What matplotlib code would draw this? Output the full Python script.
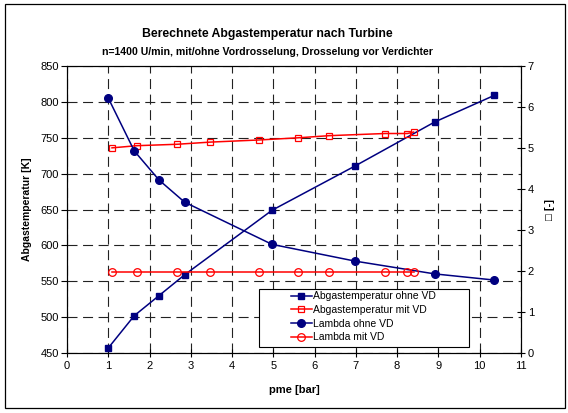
import numpy as np
import matplotlib
matplotlib.use("Agg")
import matplotlib.pyplot as plt
from matplotlib.patches import Rectangle

plt.rcParams['font.family'] = ['Liberation Sans', 'DejaVu Sans']

# Abgastemperatur ohne VD (linke Achse)
pme_ohne = [1.0, 1.63, 2.23, 2.85, 4.97, 6.99, 8.91, 10.35]
temp_ohne = [457, 502, 530, 559, 649, 711, 772, 809]
lambda_ohne = [6.22, 4.93, 4.22, 3.68, 2.65, 2.24, 1.93, 1.78]

# mit Vordrosselung
pme_mit = [1.09, 1.69, 2.67, 3.47, 4.66, 5.60, 6.36, 7.71, 8.25, 8.40]
temp_mit = [736, 739, 741, 744, 747, 750, 753, 756, 756, 758]
lambda_mit = [1.98, 1.98, 1.98, 1.98, 1.98, 1.98, 1.98, 1.98, 1.98, 1.98]

navy = '#000080'
red = '#ff0000'

fig = plt.figure(figsize=(5.68, 4.13), dpi=100, facecolor='white')
fig.patches.append(Rectangle((0.0088, 0.0121), 0.986, 0.978, transform=fig.transFigure,
                             fill=False, edgecolor='black', linewidth=0.9))

ax = fig.add_axes([0.118, 0.1453, 0.799, 0.6947])
ax2 = ax.twinx()

l1, = ax.plot(pme_ohne, temp_ohne, color=navy, lw=1.1, marker='s', ms=5,
              label='Abgastemperatur ohne VD')
l2, = ax.plot(pme_mit, temp_mit, color=red, lw=1.1, marker='s', ms=5,
              mfc='none', mew=0.9, label='Abgastemperatur mit VD')
l3, = ax2.plot(pme_ohne, lambda_ohne, color=navy, lw=1.1, marker='o', ms=5.5,
               label='Lambda ohne VD')
l4, = ax2.plot(pme_mit, lambda_mit, color=red, lw=1.1, marker='o', ms=5.5,
               mfc='none', mew=0.9, label='Lambda mit VD')

ax.set_xlim(0, 11)
ax.set_ylim(450, 850)
ax2.set_ylim(0, 7)
ax.set_xticks(np.arange(0, 12, 1))
ax.set_yticks(np.arange(450, 851, 50))
ax2.set_yticks(np.arange(0, 8, 1))

ax.grid(True, color='#222222', linestyle=(0, (9, 5)), linewidth=0.8)
ax.set_axisbelow(True)

ax.tick_params(axis='y', direction='out', length=4, width=0.8, labelsize=8, pad=2)
ax.tick_params(axis='x', direction='inout', length=6, width=0.8, labelsize=8, pad=3)
ax2.tick_params(axis='y', direction='inout', length=6, width=0.8, labelsize=8, pad=2)
for a in (ax, ax2):
    for s in a.spines.values():
        s.set_linewidth(0.8)

ax.set_xlabel('pme [bar]', fontsize=8, fontweight='bold', labelpad=10)
ax.set_ylabel('Abgastemperatur [K]', fontsize=7.5, fontweight='bold', labelpad=6)
ax2.set_ylabel('\u25a1 [-]', fontsize=8, fontweight='bold', rotation=90, labelpad=8)

fig.text(0.47, 0.918, 'Berechnete Abgastemperatur nach Turbine', ha='center', va='center',
         fontsize=8.8, fontweight='bold')
fig.text(0.47, 0.873, 'n=1400 U/min, mit/ohne Vordrosselung, Drosselung vor Verdichter',
         ha='center', va='center', fontsize=7.6, fontweight='bold')

# Legendenrahmen separat, Eintraege eingerueckt wie im Original
ax2.add_patch(Rectangle((0.423, 0.021), 0.462, 0.202, transform=ax2.transAxes,
                        facecolor='white', edgecolor='black', linewidth=0.8, zorder=5))
leg = ax2.legend(handles=[l1, l2, l3, l4], loc='upper left',
                 bbox_to_anchor=(0.493, 0.215), frameon=False,
                 fontsize=7.5, handlelength=2.0, handletextpad=0.1,
                 labelspacing=0.35, borderaxespad=0, borderpad=0)
leg.set_zorder(6)

fig.savefig('out.png', dpi=100, facecolor='white')
